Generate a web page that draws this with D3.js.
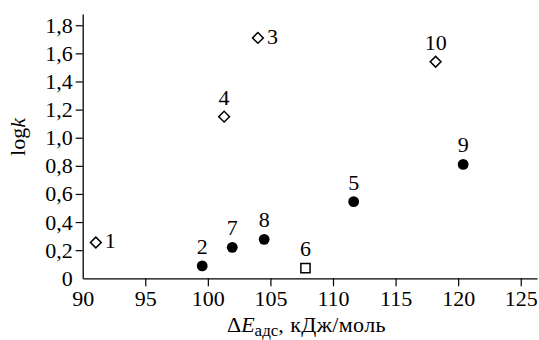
<!DOCTYPE html>
<html>
<head>
<meta charset="utf-8">
<script src="https://cdn.jsdelivr.net/npm/d3@7"></script>
<style>
  body { margin: 0; background: #fff; }
  text { font-family: "Liberation Serif", "Times New Roman", serif; }
</style>
</head>
<body>
<svg width="539" height="340"></svg>
<script>
// point data
var pointLabels = ["1", "2", "3", "4", "5", "6", "7", "8", "9", "10"];
var energy = [91.05, 99.55, 104.0, 101.3, 111.65, 107.8, 101.95, 104.5, 120.4, 118.2];
var logK = [0.255, 0.088, 1.71, 1.15, 0.545, 0.072, 0.22, 0.277, 0.81, 1.54];
var markers = ["diamond", "circle", "diamond", "diamond", "circle", "square", "circle", "circle", "circle", "diamond"];
var labelSide = ["right", "top", "right", "top", "top", "top", "top", "top", "top", "top"];
var xTicks = [90, 95, 100, 105, 110, 115, 120, 125];
var yTicks = [0, 0.2, 0.4, 0.6, 0.8, 1.0, 1.2, 1.4, 1.6, 1.8];

var svg = d3.select("svg");

var x = d3.scaleLinear().domain([90, 126.3]).range([82.7, 537]);
var y = d3.scaleLinear().domain([0, 1.88]).range([278.3, 14]);

var fmt = function (d) { return d === 0 ? "0" : d.toFixed(1).replace(".", ","); };

// x axis
var gx = svg.append("g")
    .attr("transform", "translate(0," + y(0) + ")")
    .call(d3.axisBottom(x).tickValues(xTicks).tickSize(8).tickSizeOuter(0).tickPadding(4));
gx.selectAll(".tick line").filter(function (d) { return d === 90; }).remove();
gx.selectAll("text").attr("font-size", 22).attr("font-family", "Liberation Serif").attr("fill", "#000");

// y axis
var gy = svg.append("g")
    .attr("transform", "translate(" + x(90) + ",0)")
    .call(d3.axisLeft(y).tickValues(yTicks).tickFormat(fmt).tickSize(7).tickSizeOuter(0).tickPadding(3));
gy.selectAll(".tick line").filter(function (d) { return d === 0; }).remove();
gy.selectAll("text").attr("font-size", 22).attr("font-family", "Liberation Serif").attr("fill", "#000");

svg.selectAll(".domain").attr("stroke", "#000").attr("stroke-width", 1.3);
svg.selectAll(".tick line").attr("stroke", "#000").attr("stroke-width", 1.2);

// axis titles
var xt = svg.append("text")
    .attr("x", 227).attr("y", 332)
    .attr("font-size", 22);
xt.append("tspan").text("\u0394");
xt.append("tspan").attr("font-style", "italic").text("E");
xt.append("tspan").attr("font-size", 17).attr("dy", 4).text("\u0430\u0434\u0441");
xt.append("tspan").attr("dy", -4).attr("letter-spacing", 0.4).text(", \u043a\u0414\u0436/\u043c\u043e\u043b\u044c");

var yt = svg.append("text")
    .attr("transform", "translate(25,137) rotate(-90)")
    .attr("text-anchor", "middle")
    .attr("font-size", 22);
yt.append("tspan").text("log");
yt.append("tspan").attr("font-style", "italic").text("k");

// markers
var data = pointLabels.map(function (l, i) {
  return { label: l, x: energy[i], y: logK[i], m: markers[i], side: labelSide[i] };
});

var pts = svg.selectAll(".pt").data(data).enter().append("g")
    .attr("class", "pt")
    .attr("transform", function (d) { return "translate(" + x(d.x) + "," + y(d.y) + ")"; });

pts.filter(function (d) { return d.m === "circle"; })
  .append("circle").attr("r", 5.4).attr("fill", "#000");

pts.filter(function (d) { return d.m === "diamond"; })
  .append("path")
  .attr("d", d3.symbol().type(d3.symbolSquare).size(58))
  .attr("transform", "rotate(45)")
  .attr("fill", "#fff").attr("stroke", "#000").attr("stroke-width", 1.5);

pts.filter(function (d) { return d.m === "square"; })
  .append("path")
  .attr("d", d3.symbol().type(d3.symbolSquare).size(84))
  .attr("fill", "#fff").attr("stroke", "#000").attr("stroke-width", 1.5);

pts.append("text")
    .attr("font-size", 22)
    .attr("text-anchor", function (d) { return d.side === "right" ? "start" : "middle"; })
    .attr("x", function (d) { return d.side === "right" ? 9 : 0; })
    .attr("y", function (d) { return d.side === "right" ? 6 : -12; })
    .text(function (d) { return d.label; });
</script>
</body>
</html>
